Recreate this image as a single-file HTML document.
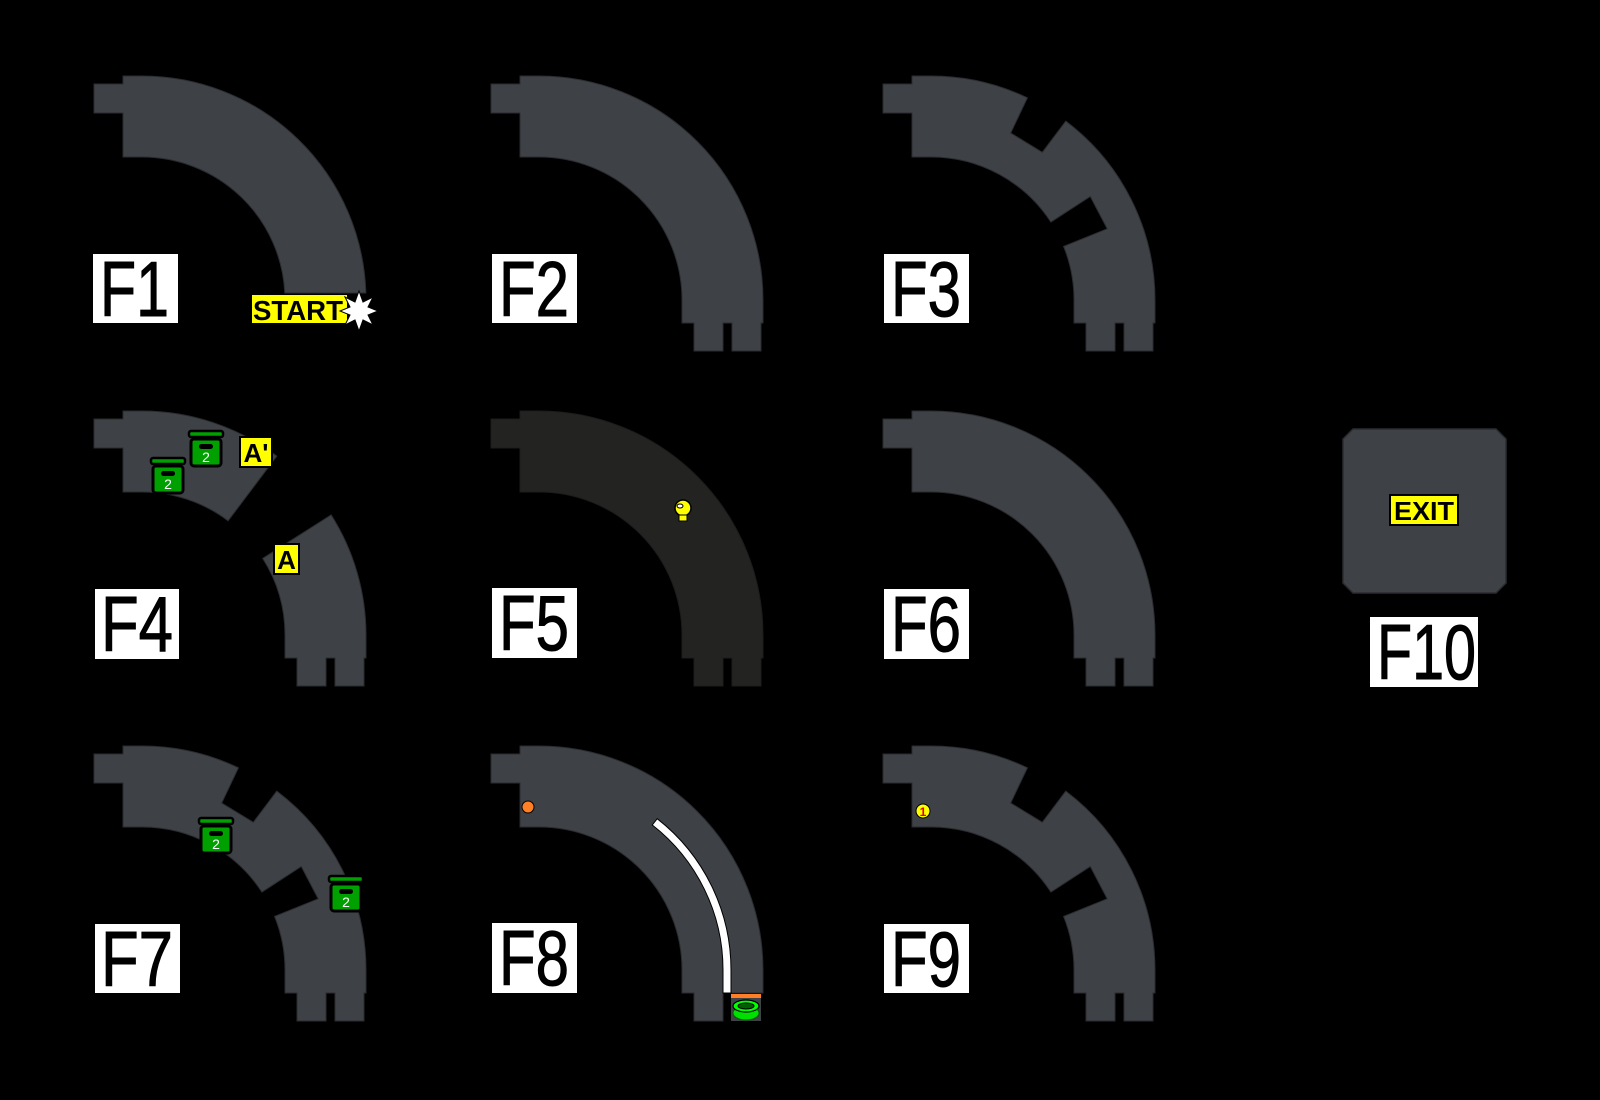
<!DOCTYPE html>
<html><head><meta charset="utf-8"><style>
html,body{margin:0;padding:0;background:#000;}
svg{display:block;}
text{font-family:"Liberation Sans",sans-serif;}
</style></head><body>
<svg width="1600" height="1100" viewBox="0 0 1600 1100" xmlns="http://www.w3.org/2000/svg">
<rect width="1600" height="1100" fill="#000"/>
<defs>
<path id="trk" d="M-48,-216 H-19 V-224 H0 A224,224 0 0 1 224,0 V23 H222 V51 H193 V23 H184 V51 H155 V23 H143 V0 A143,143 0 0 0 0,-143 H-19 V-187 H-48 Z"/>
<path id="ntrk" d="M-48,-216 H-19 V-224 H0 A224,224 0 0 1 96.4,-202.2 L79.7,-167 L111.3,-147.7 L134.8,-178.9 A224,224 0 0 1 224,0 V23 H222 V51 H193 V23 H184 V51 H155 V23 H143 V0 A143,143 0 0 0 132.6,-53.6 L176.2,-71.2 L159.3,-103.5 L119.9,-77.9 A143,143 0 0 0 0,-143 H-19 V-187 H-48 Z"/>
<g id="gbox">
<rect x="2" y="9" width="30" height="27" rx="3" fill="#00a000" stroke="#000" stroke-width="3"/>
<rect x="0" y="1" width="34" height="6" rx="2" fill="#00a000" stroke="#000" stroke-width="2.5"/>
<rect x="10" y="14" width="14" height="5" rx="2.5" fill="#000"/>
<text x="17" y="32" font-size="14" fill="#fff" text-anchor="middle">2</text>
</g>
</defs>

<g transform="translate(142,300)">
<path d="M-48,-216 H-19 V-224 H0 A224,224 0 0 1 223.9,-7 H142.8 A143,143 0 0 0 0,-143 H-19 V-187 H-48 Z" fill="#3e4146" stroke="#2a2c30" stroke-width="1"/>
</g>
<g transform="translate(539,300)"><use href="#trk" fill="#3e4146" stroke="#2a2c30"/></g>
<g transform="translate(931,300)"><use href="#ntrk" fill="#3e4146" stroke="#2a2c30"/></g>
<g transform="translate(142,635)">
<path d="M-48,-216 H-19 V-224 H0 A224,224 0 0 1 134.8,-178.9 L86.1,-114.2 A143,143 0 0 0 0,-143 H-19 V-187 H-48 Z" fill="#3e4146" stroke="#2a2c30"/>
<path d="M189.1,-120.1 A224,224 0 0 1 224,0 V23 H222 V51 H193 V23 H184 V51 H155 V23 H143 V0 A143,143 0 0 0 120.7,-76.6 Z" fill="#3e4146" stroke="#2a2c30"/>
</g>
<g transform="translate(539,635)"><use href="#trk" fill="#232322" stroke="#1c1c1c"/></g>
<g transform="translate(931,635)"><use href="#trk" fill="#3e4146" stroke="#2a2c30"/></g>
<g transform="translate(142,970)"><use href="#ntrk" fill="#3e4146" stroke="#2a2c30"/></g>
<g transform="translate(539,970)">
<path d="M-48,-216 H-19 V-224 H0 A224,224 0 0 1 224,0 V23 H184 V51 H155 V23 H143 V0 A143,143 0 0 0 0,-143 H-19 V-187 H-48 Z" fill="#3e4146" stroke="#2a2c30"/>
<path d="M113.3,-145 L118.2,-151.3 A192,192 0 0 1 192,0 V23 H184 V0 A184,184 0 0 0 113.3,-145 Z" fill="#fff" stroke="#000" stroke-width="1"/>
</g>
<g transform="translate(931,970)"><use href="#ntrk" fill="#3e4146" stroke="#2a2c30"/></g>

<path d="M1353,429 H1496 L1506,439 V583 L1496,593 H1353 L1343,583 V439 Z" fill="#3e4146" stroke="#2a2c30" stroke-width="1.5"/>
<rect x="1390" y="495" width="68" height="30" fill="#ffff00" stroke="#000" stroke-width="2"/>
<text x="1424" y="520" font-size="26" font-weight="bold" text-anchor="middle" fill="#000" textLength="60" lengthAdjust="spacingAndGlyphs">EXIT</text>

<g fill="#fff">
<rect x="93" y="254" width="85" height="69"/>
<rect x="492" y="254" width="85" height="69"/>
<rect x="884" y="254" width="85" height="69"/>
<rect x="95" y="589" width="84" height="70"/>
<rect x="492" y="588" width="85" height="70"/>
<rect x="884" y="589" width="85" height="70"/>
<rect x="95" y="924" width="85" height="69"/>
<rect x="492" y="923" width="85" height="70"/>
<rect x="884" y="924" width="85" height="69"/>
<rect x="1370" y="617" width="108" height="70"/>
</g>
<g fill="#000" stroke="#000" stroke-width="1" font-size="78">
<text x="100" y="316" textLength="69" lengthAdjust="spacingAndGlyphs">F1</text>
<text x="499" y="316" textLength="70" lengthAdjust="spacingAndGlyphs">F2</text>
<text x="891" y="316" textLength="70" lengthAdjust="spacingAndGlyphs">F3</text>
<text x="101" y="651" textLength="72" lengthAdjust="spacingAndGlyphs">F4</text>
<text x="499" y="650" textLength="70" lengthAdjust="spacingAndGlyphs">F5</text>
<text x="891" y="651" textLength="70" lengthAdjust="spacingAndGlyphs">F6</text>
<text x="101" y="986" textLength="72" lengthAdjust="spacingAndGlyphs">F7</text>
<text x="499" y="985" textLength="70" lengthAdjust="spacingAndGlyphs">F8</text>
<text x="891" y="986" textLength="70" lengthAdjust="spacingAndGlyphs">F9</text>
<text x="1377" y="679" textLength="99" lengthAdjust="spacingAndGlyphs">F10</text>
</g>

<rect x="252" y="295" width="95" height="28" fill="#ffff00"/>
<text x="253" y="320" font-size="28" font-weight="bold" fill="#000" textLength="90" lengthAdjust="spacingAndGlyphs">START</text>
<polygon points="359,291 363,302 373,297 368,307 378,311 368,315 373,325 363,320 359,331 355,320 345,325 350,315 340,311 350,307 345,297 355,302" fill="#fff" stroke="#000" stroke-width="1"/>

<use href="#gbox" x="151" y="457"/>
<use href="#gbox" x="189" y="430"/>
<rect x="240" y="437" width="32" height="30" fill="#ffff00" stroke="#000" stroke-width="2"/>
<text x="256" y="462" font-size="26" font-weight="bold" text-anchor="middle" fill="#000">A'</text>
<rect x="274" y="544" width="25" height="30" fill="#ffff00" stroke="#000" stroke-width="2"/>
<text x="286.5" y="569" font-size="26" font-weight="bold" text-anchor="middle" fill="#000">A</text>

<circle cx="683" cy="508" r="8" fill="#ffff00" stroke="#000" stroke-width="1.5"/>
<rect x="679" y="515" width="8" height="6" fill="#ffff00" stroke="#000" stroke-width="1"/>
<ellipse cx="680" cy="506" rx="3" ry="2" fill="#fff" stroke="#000" stroke-width="1"/>

<use href="#gbox" x="199" y="817"/>
<use href="#gbox" x="329" y="875"/>

<circle cx="528" cy="807" r="6" fill="#ff7f27" stroke="#000" stroke-width="1"/>
<rect x="731" y="994" width="30" height="4" fill="#ff7f27"/>
<rect x="731" y="998" width="30" height="23" fill="#3e4146"/>
<ellipse cx="746" cy="1013" rx="13" ry="7" fill="#00e000" stroke="#006000" stroke-width="1"/>
<ellipse cx="746" cy="1006" rx="13" ry="6" fill="#00ff00" stroke="#000" stroke-width="1.2"/>
<ellipse cx="746" cy="1006" rx="8" ry="3" fill="#006000" stroke="#000" stroke-width="1"/>

<circle cx="923" cy="811" r="7" fill="#ffff00" stroke="#000" stroke-width="1"/>
<text x="923" y="816" font-size="12" font-weight="bold" text-anchor="middle" fill="#e00000">1</text>
</svg>
</body></html>
